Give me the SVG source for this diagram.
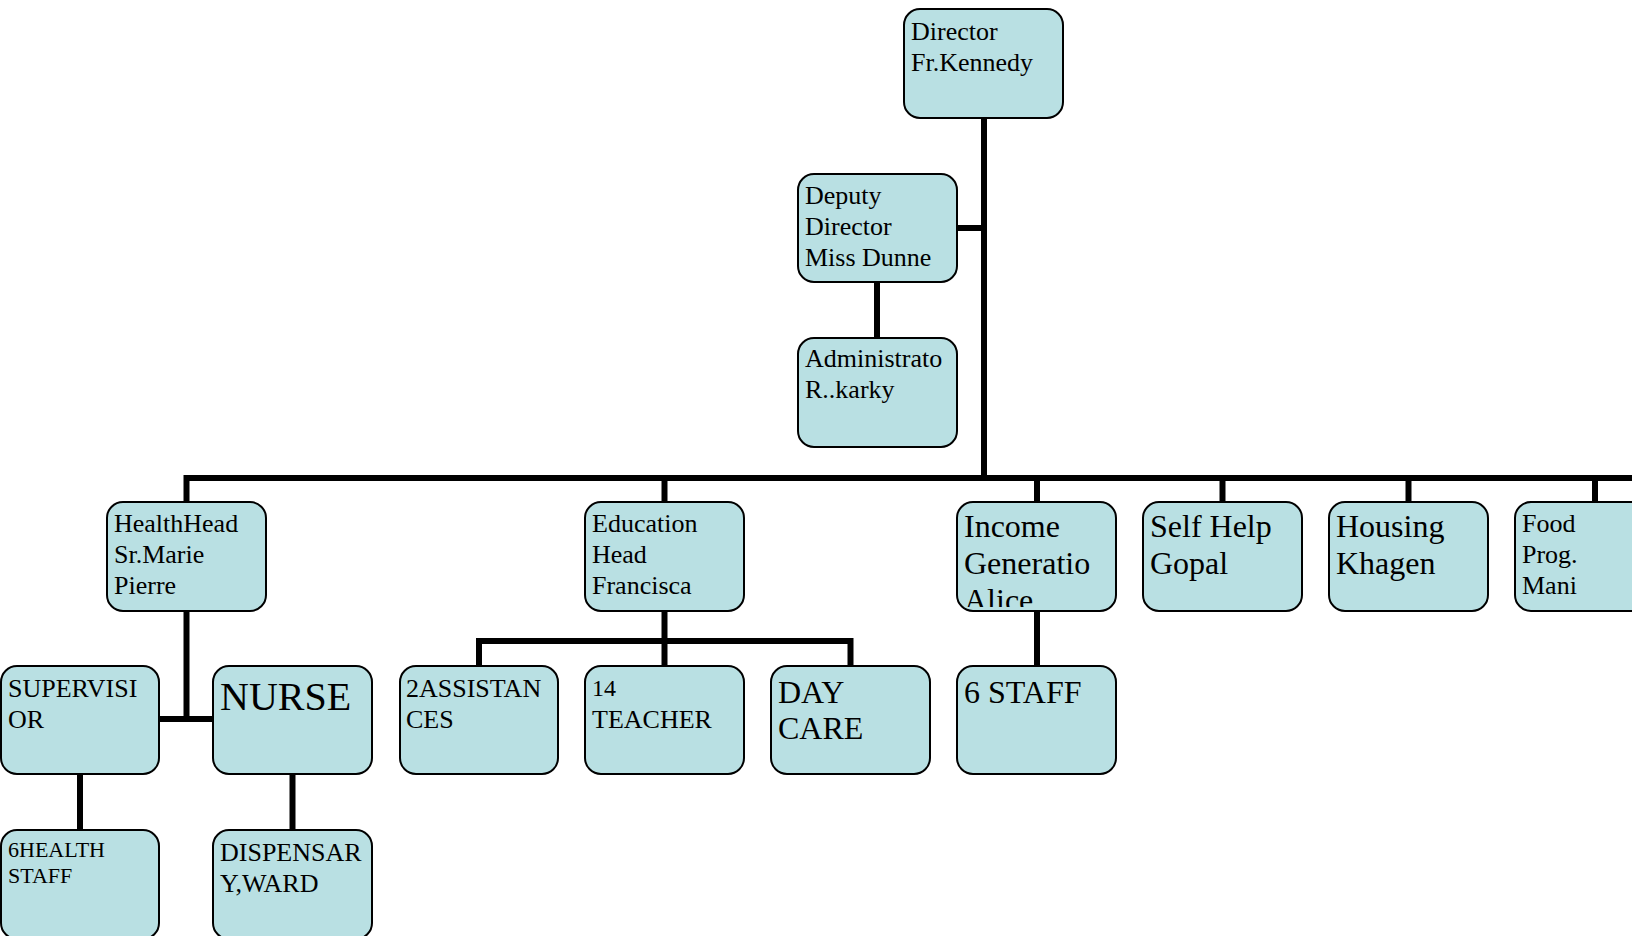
<svg xmlns="http://www.w3.org/2000/svg" width="1632" height="936" viewBox="0 0 1632 936">
<style>
.box{fill:#B9E0E3;stroke:#000;stroke-width:2}
.t{font-family:"Liberation Serif","Times New Roman",serif;fill:#000}
.s26{font-size:26px}
.s32{font-size:32px}
.s22{font-size:22px}
.s40{font-size:40px}
.c{stroke:#000;stroke-width:6;fill:none}
</style>
<defs>
<clipPath id="clipIncome"><rect x="958" y="503" width="157" height="104"/></clipPath>
</defs>
<g id="connectors">
<path class="c" d="M984 119 V478"/>
<path class="c" d="M957 228 H984"/>
<path class="c" d="M877 282 V337"/>
<path class="c" d="M186.5 478 H1632"/>
<path class="c" d="M186.5 475 V502"/>
<path class="c" d="M664.5 478 V502"/>
<path class="c" d="M1037 478 V502"/>
<path class="c" d="M1222.5 478 V502"/>
<path class="c" d="M1408.5 478 V502"/>
<path class="c" d="M1595 478 V502"/>
<path class="c" d="M186.5 611 V719"/>
<path class="c" d="M159 719 H213"/>
<path class="c" d="M664.5 611 V666"/>
<path class="c" d="M479 666 V641 H850.5 V666"/>
<path class="c" d="M1037 611 V666"/>
<path class="c" d="M80 774 V830"/>
<path class="c" d="M292.5 774 V830"/>
</g>
<g id="director"><rect class="box" x="904" y="9" width="159" height="109" rx="16"/>
<text class="t s26" x="911"><tspan x="911" y="40">Director</tspan><tspan x="911" y="71">Fr.Kennedy</tspan></text></g>
<g id="deputy"><rect class="box" x="798" y="174" width="159" height="108" rx="16"/>
<text class="t s26"><tspan x="805" y="204">Deputy</tspan><tspan x="805" y="235">Director</tspan><tspan x="805" y="266">Miss Dunne</tspan></text></g>
<g id="admin"><rect class="box" x="798" y="338" width="159" height="109" rx="16"/>
<text class="t s26"><tspan x="805" y="367">Administrato</tspan><tspan x="805" y="398">R..karky</tspan></text></g>
<g id="health"><rect class="box" x="107" y="502" width="159" height="109" rx="16"/>
<text class="t s26"><tspan x="114" y="532">HealthHead</tspan><tspan x="114" y="563">Sr.Marie</tspan><tspan x="114" y="594">Pierre</tspan></text></g>
<g id="education"><rect class="box" x="585" y="502" width="159" height="109" rx="16"/>
<text class="t s26"><tspan x="592" y="532">Education</tspan><tspan x="592" y="563">Head</tspan><tspan x="592" y="594">Francisca</tspan></text></g>
<g id="income"><rect class="box" x="957" y="502" width="159" height="109" rx="16"/>
<text class="t s32" clip-path="url(#clipIncome)"><tspan x="964" y="537">Income</tspan><tspan x="964" y="574">Generatio</tspan><tspan x="964" y="611">Alice</tspan></text></g>
<g id="selfhelp"><rect class="box" x="1143" y="502" width="159" height="109" rx="16"/>
<text class="t s32"><tspan x="1150" y="537">Self Help</tspan><tspan x="1150" y="574">Gopal</tspan></text></g>
<g id="housing"><rect class="box" x="1329" y="502" width="159" height="109" rx="16"/>
<text class="t s32"><tspan x="1336" y="537">Housing</tspan><tspan x="1336" y="574">Khagen</tspan></text></g>
<g id="food"><rect class="box" x="1515" y="502" width="159" height="109" rx="16"/>
<text class="t s26"><tspan x="1522" y="532">Food</tspan><tspan x="1522" y="563">Prog.</tspan><tspan x="1522" y="594">Mani</tspan></text></g>
<g id="supervisor"><rect class="box" x="1" y="666" width="158" height="108" rx="16"/>
<text class="t s26"><tspan x="8" y="697">SUPERVISI</tspan><tspan x="8" y="728">OR</tspan></text></g>
<g id="nurse"><rect class="box" x="213" y="666" width="159" height="108" rx="16"/>
<text class="t s40" x="220" y="710">NURSE</text></g>
<g id="assistances"><rect class="box" x="400" y="666" width="158" height="108" rx="16"/>
<text class="t s26"><tspan x="406" y="697">2ASSISTAN</tspan><tspan x="406" y="728">CES</tspan></text></g>
<g id="teacher"><rect class="box" x="585" y="666" width="159" height="108" rx="16"/>
<text class="t s26"><tspan x="592" y="696" font-size="24">14</tspan><tspan x="592" y="728">TEACHER</tspan></text></g>
<g id="daycare"><rect class="box" x="771" y="666" width="159" height="108" rx="16"/>
<text class="t s32"><tspan x="778" y="703">DAY</tspan><tspan x="778" y="739">CARE</tspan></text></g>
<g id="staff6"><rect class="box" x="957" y="666" width="159" height="108" rx="16"/>
<text class="t s32" x="964" y="703">6 STAFF</text></g>
<g id="healthstaff"><rect class="box" x="1" y="830" width="158" height="109" rx="16"/>
<text class="t s22"><tspan x="8" y="857">6HEALTH</tspan><tspan x="8" y="883">STAFF</tspan></text></g>
<g id="dispensary"><rect class="box" x="213" y="830" width="159" height="109" rx="16"/>
<text class="t s26"><tspan x="220" y="861">DISPENSAR</tspan><tspan x="220" y="892">Y,WARD</tspan></text></g>
</svg>
